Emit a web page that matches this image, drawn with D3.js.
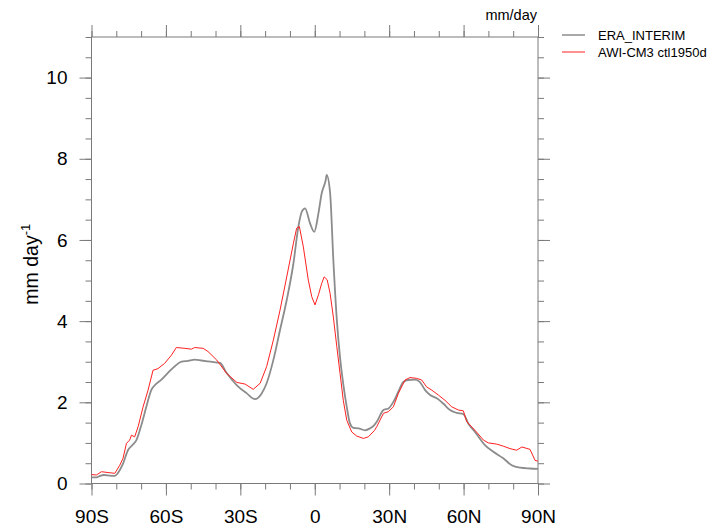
<!DOCTYPE html>
<html>
<head>
<meta charset="utf-8">
<script src="https://cdn.jsdelivr.net/npm/d3@7"></script>
<style>
  html, body { margin: 0; padding: 0; background: #fff; }
  svg { display: block; font-family: "Liberation Sans", Arial, Helvetica, sans-serif; }
</style>
</head>
<body>
<svg id="chart" width="712" height="529"></svg>
<script>
// ---- data ----
const seriesNames = ["ERA_INTERIM", "AWI-CM3 ctl1950d"];
const seriesColors = ["#8c8c8c", "#ff2020"];

const eraLat = [-90,-88,-86.5,-85,-82,-80.6,-78.6,-77.3,-75.3,-73.3,-71.9,-69.9,-67.9,-65.9,-64.5,-61.8,-59.1,-56.4,-53.7,-51.1,-48.4,-45.7,-42,-38.2,-35.5,-31.4,-27.4,-24.1,-21.4,-19.4,-16.7,-14,-11.3,-8.6,-6.6,-5.2,-3.9,-1.9,-0.2,1.5,2.8,4.4,4.8,6.2,7.5,8.9,10.2,11.5,12.9,14.2,15.6,17.6,20.3,22.3,24,25,27.7,29.7,31.7,33.7,35.7,37.7,40.4,42.4,44.5,46.5,49.2,51.8,54.5,57.2,59.9,61.9,64.6,68.7,72,76,79.4,82.8,86.8,90];
const eraVal = [0.15,0.15,0.19,0.21,0.19,0.19,0.33,0.49,0.82,0.96,1.07,1.44,1.89,2.3,2.42,2.56,2.73,2.89,3.0,3.02,3.05,3.03,3.0,2.97,2.72,2.42,2.22,2.08,2.22,2.47,3.04,3.78,4.52,5.42,6.33,6.7,6.78,6.41,6.2,6.66,7.15,7.47,7.6,7.15,5.5,4.03,3.1,2.45,1.89,1.48,1.37,1.36,1.31,1.36,1.44,1.52,1.81,1.85,2.01,2.26,2.5,2.55,2.56,2.5,2.3,2.18,2.1,1.97,1.81,1.74,1.71,1.48,1.27,0.94,0.78,0.62,0.45,0.39,0.37,0.36];

const awiLat = [-90,-88,-86,-83.3,-80.6,-78.6,-77.3,-75.9,-74.6,-73.9,-72.6,-71.2,-69.2,-67.2,-65.2,-63.2,-60.5,-57.8,-55.8,-52.4,-49.7,-48.4,-45,-43,-39.5,-35.5,-31.4,-28.1,-24.8,-22,-19.4,-16.7,-14,-11.3,-8.6,-7.3,-6.2,-4.6,-2.6,-1.2,0.1,1.5,2.8,3.8,5.0,6.2,7.5,8.9,10.2,11.5,12.9,14.9,16.9,19.6,21.6,24,25,27.7,29.7,31.7,33.7,36.4,38.4,41.1,43.1,45.1,47.2,49.8,52.5,55.2,57.9,59.9,61.3,64.6,68,70,73.4,76,78.7,81.4,83.5,86.8,88.8,90];
const awiVal = [0.22,0.21,0.29,0.27,0.25,0.45,0.62,0.99,1.07,1.19,1.15,1.4,1.89,2.3,2.79,2.83,2.96,3.16,3.35,3.33,3.31,3.35,3.33,3.25,3.04,2.71,2.49,2.45,2.32,2.47,2.88,3.53,4.27,5.09,5.92,6.29,6.33,5.83,5.01,4.6,4.4,4.65,4.93,5.09,5.02,4.68,4.1,3.37,2.71,2.05,1.56,1.27,1.17,1.11,1.15,1.3,1.4,1.73,1.77,1.89,2.22,2.55,2.61,2.59,2.55,2.38,2.3,2.18,2.05,1.89,1.81,1.79,1.52,1.31,1.07,1.0,0.97,0.92,0.86,0.82,0.9,0.84,0.57,0.55];

const xTickVals = [-90,-60,-30,0,30,60,90];
const xTickLabels = ["90S","60S","30S","0","30N","60N","90N"];
const yTickVals = [0,2,4,6,8,10];

// ---- layout ----
const L = 91.5, R = 538, T = 37, B = 483.5;
const svg = d3.select("#chart");
const x = d3.scaleLinear().domain([-90, 90]).range([L, R]);
const y = d3.scaleLinear().domain([0, 11]).range([B, T]);
const axisColor = "#7a7a7a";

const xMinor = d3.range(-90, 91, 10);
const yMinor = d3.range(0, 11.01, 0.5);

function styleAxis(g) {
  g.select(".domain").remove();
  g.selectAll(".tick line").attr("stroke", axisColor).attr("stroke-width", 1);
  g.selectAll("text").attr("fill", "#000");
}

// minor ticks
svg.append("g").attr("transform", `translate(0,${B})`)
  .call(d3.axisBottom(x).tickValues(xMinor).tickSize(6).tickFormat(""))
  .call(styleAxis);
svg.append("g").attr("transform", `translate(0,${T})`)
  .call(d3.axisTop(x).tickValues(xMinor).tickSize(6).tickFormat(""))
  .call(styleAxis);
svg.append("g").attr("transform", `translate(${L},0)`)
  .call(d3.axisLeft(y).tickValues(yMinor).tickSize(6).tickFormat(""))
  .call(styleAxis);
svg.append("g").attr("transform", `translate(${R},0)`)
  .call(d3.axisRight(y).tickValues(yMinor).tickSize(6).tickFormat(""))
  .call(styleAxis);

// major ticks
svg.append("g").attr("transform", `translate(0,${B})`)
  .call(d3.axisBottom(x).tickValues(xTickVals).tickSize(12).tickPadding(14)
    .tickFormat((d, i) => xTickLabels[i]))
  .call(styleAxis)
  .call(g => g.selectAll("text").attr("font-size", 19).attr("font-family", "Liberation Sans, Arial, sans-serif"));
svg.append("g").attr("transform", `translate(0,${T})`)
  .call(d3.axisTop(x).tickValues(xTickVals).tickSize(12).tickFormat(""))
  .call(styleAxis);
svg.append("g").attr("transform", `translate(${L},0)`)
  .call(d3.axisLeft(y).tickValues(yTickVals).tickSize(12).tickPadding(12).tickFormat(d3.format("d")))
  .call(styleAxis)
  .call(g => g.selectAll("text").attr("font-size", 19).attr("font-family", "Liberation Sans, Arial, sans-serif"));
svg.append("g").attr("transform", `translate(${R},0)`)
  .call(d3.axisRight(y).tickValues(yTickVals).tickSize(12).tickFormat(""))
  .call(styleAxis);

// frame
svg.append("rect").attr("x", L).attr("y", T).attr("width", R - L).attr("height", B - T)
  .attr("fill", "none").attr("stroke", axisColor).attr("stroke-width", 1);

// lines
const eraData = eraLat.map((d, i) => [d, eraVal[i]]);
const awiData = awiLat.map((d, i) => [d, awiVal[i]]);

svg.append("path").datum(eraData)
  .attr("fill", "none").attr("stroke", seriesColors[0]).attr("stroke-width", 1.8)
  .attr("d", d3.line().x(d => x(d[0])).y(d => y(d[1])).curve(d3.curveMonotoneX));
svg.append("path").datum(awiData)
  .attr("fill", "none").attr("stroke", seriesColors[1]).attr("stroke-width", 1)
  .attr("d", d3.line().x(d => x(d[0])).y(d => y(d[1])).curve(d3.curveLinear));

// y title
const yt = svg.append("text")
  .attr("transform", `translate(38,${(T + B) / 2 + 4}) rotate(-90)`)
  .attr("text-anchor", "middle").attr("font-size", 19.5).attr("fill", "#000");
yt.append("tspan").text("mm day");
yt.append("tspan").attr("dy", -8).attr("font-size", 13).text("-1");

// top right units
svg.append("text").attr("x", R - 1).attr("y", 20).attr("text-anchor", "end")
  .attr("font-size", 14.5).attr("fill", "#000").text("mm/day");

// legend
const lg = svg.append("g");
seriesNames.forEach((n, i) => {
  const yy = 35 + i * 17;
  lg.append("line").attr("x1", 562).attr("x2", 585).attr("y1", yy).attr("y2", yy)
    .attr("stroke", seriesColors[i]).attr("stroke-width", i === 0 ? 1.5 : 1);
  lg.append("text").attr("x", 598).attr("y", yy).attr("dy", "0.35em")
    .attr("font-size", 13).attr("fill", "#000").text(n);
});
</script>
</body>
</html>
